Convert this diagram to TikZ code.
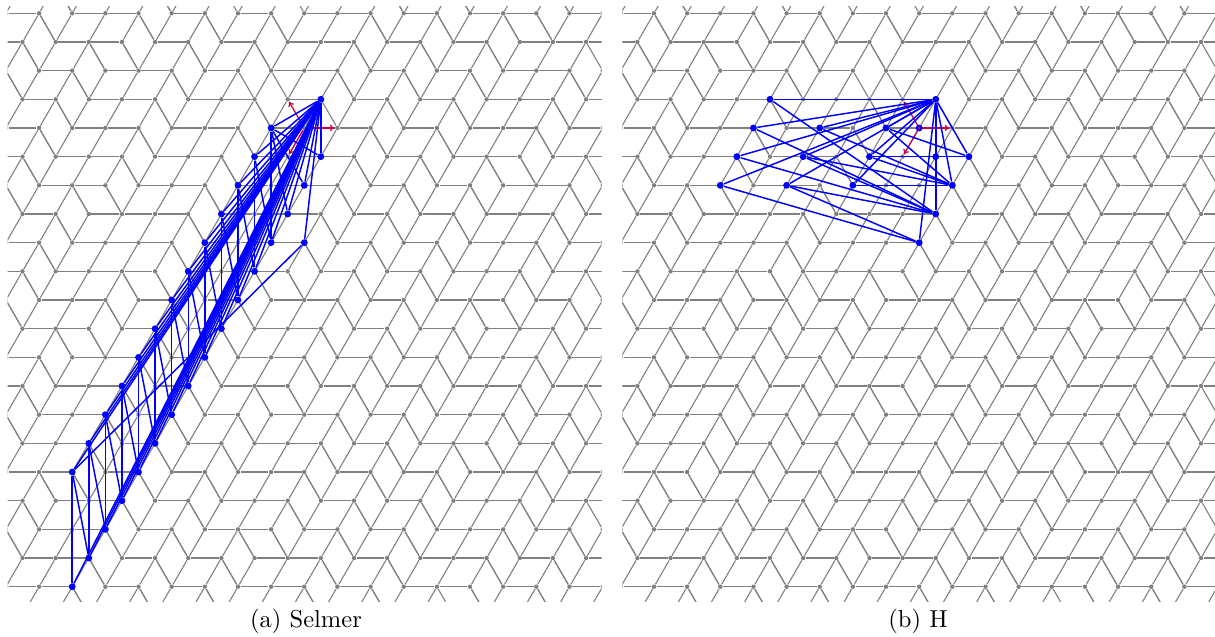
\documentclass[tikz,border=0pt]{standalone}
\usetikzlibrary{positioning, arrows.meta}
\definecolor{latgray}{RGB}{128,128,128}
\definecolor{darkcrimson}{RGB}{205,0,70}

% row/{centres of the missing horizontal edges}
\newcommand{\gaplist}{-1/{3,9,23,27,33},0/{2,8,12,16,22,26,32},1/{1,7,11,15,21,25,29},2/{0,4,10,14,20,24,28,34},3/{-1,3,9,15,19,23,27,33},4/{2,8,14,22,26,32},5/{1,7,13,21,25,31},6/{0,6,12,20,24,28,34},7/{-1,3,11,19,23,27,33},8/{2,10,18,22,26,32},9/{1,9,17,21,25,31},10/{0,6,10,14,20,24,30,34},11/{-1,5,9,13,19,23,27,33},12/{2,8,12,18,22,26,32},13/{1,7,11,17,21,25,31},14/{0,6,10,14,20,24,30,34},15/{-1,5,9,13,19,23,29,33},16/{4,8,12,18,22,26,32},17/{1,7,11,17,21,25,31},18/{0,6,10,16,20,24,30,34},19/{-1,5,9,13,19,23,29,33},20/{4,8,12,18,22,28,32},21/{3,7,11,17,21,31}}
% row/column of the upper left corner of the leaning tiles
\newcommand{\leanlist}{0/29,1/4,5/28,6/3,9/6,9/14,10/27,11/2,13/14,15/26,16/1,18/13,20/25}

\newcommand{\tiling}[2]{%
  \begin{scope}[shift={(#2,0)}]
    \clip (7.5,7) rectangle (601.5,601);
    % Points
    \foreach \rw in {-2,...,22} \foreach \cl in {-4,...,38} {
      \ifodd\numexpr\rw+\cl\relax
        \node[latpt] (#1-\rw-\cl) at ({22.5+16.575*\cl},{13.3+28.67*\rw}) {};
      \fi
    }
    % Horizontal edges
    \foreach \rw in {0,...,20} \foreach \cl in {-2,...,37} {
      \ifodd\numexpr\rw+\cl\relax\else
        \ifcsname noh@\rw @\cl\endcsname\else
          \edef\cL{\the\numexpr\cl-1\relax}\edef\cR{\the\numexpr\cl+1\relax}
          \draw[latedge] (#1-\rw-\cL) -- (#1-\rw-\cR);
        \fi
      \fi
    }
    % Rising edges
    \foreach \rw in {-1,...,21} \foreach \cl in {-3,...,37} {
      \ifodd\numexpr\rw+\cl\relax
        \ifcsname nos@\rw @\cl\endcsname\else
          \edef\rD{\the\numexpr\rw+1\relax}\edef\cL{\the\numexpr\cl-1\relax}
          \draw[latedge] (#1-\rw-\cl) -- (#1-\rD-\cL);
        \fi
      \fi
    }
    % Falling edges of the diamonds
    \foreach \rw/\gaps in \gaplist { \foreach \cl in \gaps {
      \edef\rU{\the\numexpr\rw-1\relax}\edef\rD{\the\numexpr\rw+1\relax}
      \edef\cL{\the\numexpr\cl-1\relax}\edef\cR{\the\numexpr\cl+1\relax}
      \draw[latedge] (#1-\rU-\cl) -- (#1-\rw-\cR);
      \draw[latedge] (#1-\rw-\cL) -- (#1-\rD-\cl);
    }}
    % Falling edges of the leaning tiles
    \foreach \rw/\cl in \leanlist {
      \edef\rD{\the\numexpr\rw+1\relax}\edef\cA{\the\numexpr\cl+1\relax}
      \edef\cB{\the\numexpr\cl+2\relax}\edef\cC{\the\numexpr\cl+3\relax}
      \draw[latedge] (#1-\rw-\cl) -- (#1-\rD-\cA);
      \draw[latedge] (#1-\rw-\cB) -- (#1-\rD-\cC);
    }
    % Vectors
    \draw[redarrow] (#1-4-17) -- (#1-3-16);
    \draw[redarrow] (#1-4-17) -- (#1-4-19);
    \draw[redarrow] (#1-4-17) -- (#1-5-16);
  \end{scope}}

\begin{document}
\begin{tikzpicture}[
    x=0.408pt, y=-0.408pt,
    latpt/.style={circle, fill=latgray, inner sep=0pt, minimum size=1.8pt},
    latedge/.style={draw=latgray, line width=0.45pt},
    bluept/.style={circle, fill=blue, inner sep=0pt, minimum size=2.8pt},
    blueedge/.style={draw=blue, line width=0.6pt},
    redarrow/.style={draw=darkcrimson, line width=0.5pt, -{To[length=2pt,width=2.6pt]}},
    redpt/.style={circle, fill=darkcrimson, inner sep=0pt, minimum size=1.2pt}
  ]
  \useasboundingbox (0,0) rectangle (1215,636);

  % Removed edges
  \foreach \rw/\gaps in \gaplist { \foreach \cl in \gaps {
    \expandafter\gdef\csname noh@\rw @\cl\endcsname{}
  }}
  \foreach \rw/\cl in \leanlist {
    \edef\cB{\the\numexpr\cl+2\relax}
    \expandafter\gdef\csname nos@\rw @\cB\endcsname{}
  }

  % Lattices
  \tiling{SL}{0}
  \tiling{HL}{614.9}

  % Selmer
  \node[bluept] (S-3-18) at (SL-3-18) {};
  \node[bluept] (S-8-17) at (SL-8-17) {};
  \foreach \rw in {4,...,16} {
    \edef\cl{\the\numexpr19-\rw\relax}
    \node[bluept] (S-\rw-\cl) at (SL-\rw-\cl) {};
  }
  \foreach \rw in {5,...,20} {
    \edef\cl{\the\numexpr23-\rw\relax}
    \node[bluept] (S-\rw-\cl) at (SL-\rw-\cl) {};
    \draw[blueedge] (S-3-18) -- (S-\rw-\cl);
  }
  \foreach \rw in {4,...,16} {
    \edef\cl{\the\numexpr19-\rw\relax}
    \edef\rA{\the\numexpr\rw+4\relax}\edef\rB{\the\numexpr\rw+3\relax}
    \edef\cA{\the\numexpr\cl+1\relax}
    \draw[blueedge] (S-3-18) -- (S-\rw-\cl);
    \draw[blueedge] (S-\rw-\cl) -- (S-\rA-\cl);
    \draw[blueedge] (S-\rw-\cl) -- (S-\rB-\cA);
  }
  \draw[blueedge] (S-3-18) -- (S-8-17);
  \draw[blueedge] (S-8-17) -- (S-16-3);
  \draw[blueedge] (S-4-15) -- (S-5-18);
  \draw[blueedge] (S-4-15) -- (S-6-17);

  % H
  \foreach \rw/\cl in {3/8,3/18,4/7,4/11,4/15,4/17,5/6,5/10,5/14,5/18,5/20,6/5,6/9,6/13,6/19,7/18,8/17} {
    \node[bluept] (H-\rw-\cl) at (HL-\rw-\cl) {};
  }
  \foreach \rw/\cl in {3/8,4/7,4/11,4/15,5/6,5/10,5/14,5/18,5/20,6/5,6/9,6/13,6/19,7/18,8/17} {
    \draw[blueedge] (H-3-18) -- (H-\rw-\cl);
  }
  \foreach \ra/\ca/\rb/\cb in {3/8/7/18,4/7/7/18,4/11/6/19,4/15/5/20,4/15/6/19,5/6/7/18,5/10/6/19,5/10/7/18,5/14/5/20,5/14/6/19,6/5/8/17,6/9/7/18,6/9/8/17,6/13/6/19} {
    \draw[blueedge] (H-\ra-\ca) -- (H-\rb-\cb);
  }
  \node[redpt] (Hred) at (H-4-17) {};

  % Captions
  \node (capa) at (306,621) {(a) Selmer};
  \node (capb) at (918,621) {(b) H};
\end{tikzpicture}
\end{document}
